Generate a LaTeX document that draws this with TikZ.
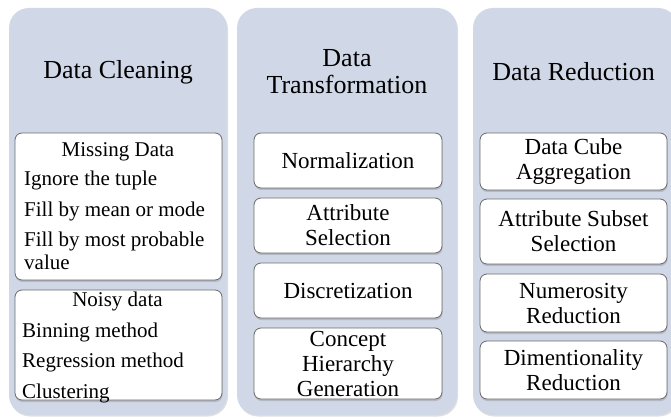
\documentclass[tikz,border=0pt]{standalone}
\usepackage{fontspec}
\setmainfont{Liberation Serif}
\usetikzlibrary{shadows}

\definecolor{panelblue}{RGB}{208,216,231}
\definecolor{boxline}{RGB}{105,105,105}

\tikzset{
  panel/.style={fill=panelblue, rounded corners=20pt, inner sep=0pt,
    drop shadow={shadow xshift=1pt, shadow yshift=-1.5pt, opacity=0.25}},
  itembox/.style={draw=boxline, fill=white, rounded corners=7pt, line width=0.8pt,
    inner sep=0pt, align=center, font=\fontsize{23}{25}\selectfont,
    drop shadow={shadow xshift=0.5pt, shadow yshift=-2pt, opacity=0.35}},
  heading/.style={font=\fontsize{26}{27}\selectfont, align=center},
  listitem/.style={font=\fontsize{21}{23}\selectfont, inner sep=0pt}
}

\begin{document}
\begin{tikzpicture}[x=1pt,y=-1pt]

  \useasboundingbox (0,0) rectangle (671,419);
  \clip (0,0) rectangle (671,419);

  % the three columns
  \begin{scope}[every node/.style={panel}]
    \node (cleaning)  at (118,211.5)   [minimum width=218, minimum height=407] {};
    \node (transform) at (347,211.5)   [minimum width=220, minimum height=407] {};
    \node (reduction) at (575.5,211.5) [minimum width=205, minimum height=407] {};
  \end{scope}

  \node[heading] (cleanhead) at (118,72)   {Data Cleaning};
  \node[heading] (transhead) at (347,72)   {Data\\Transformation};
  \node[heading] (reducehead) at (573.5,72) {Data Reduction};

  % data cleaning
  \begin{scope}[every node/.style={itembox}]
    \node (missing) at (118.5,206.5) [minimum width=207, minimum height=147] {};
    \node (noisy)   at (118.5,345)   [minimum width=207, minimum height=110] {};
  \end{scope}

  \begin{scope}[every node/.style={listitem}]
    \node[anchor=base]      (missinghead) at (118,157) {Missing Data};
    \node[anchor=base west] (ignore)      at (24,186)  {Ignore the tuple};
    \node[anchor=base west] (fillmean)    at (24,217)  {Fill by mean or mode};
    \node[anchor=west, align=left] (fillprob) at (24,251) {Fill by most probable\\value};
    \node[anchor=base]      (noisyhead)   at (117.5,306) {Noisy data};
    \node[anchor=base west] (binning)     at (22,337)  {Binning method};
    \node[anchor=base west] (regression)  at (22,367)  {Regression method};
    \node[anchor=base west] (clustering)  at (22,398)  {Clustering};
  \end{scope}

  % data transformation
  \begin{scope}[every node/.style={itembox, minimum width=188}]
    \node (norm)    at (348,160.5) [minimum height=55] {Normalization};
    \node (attrsel) at (348,225.5) [minimum height=55] {Attribute\\Selection};
    \node (discret) at (348,290.5) [minimum height=55] {Discretization};
    \node (concept) at (348,363.5) [minimum height=71] {Concept\\Hierarchy\\Generation};
  \end{scope}

  % data reduction
  \begin{scope}[every node/.style={itembox, minimum width=187}]
    \node (cube)      at (573.5,161.5) [minimum height=57] {Data Cube\\Aggregation};
    \node (subset)    at (573.5,231.5) [minimum height=65] {Attribute Subset\\Selection};
    \node (numerosity) at (573.5,303)  [minimum height=58] {Numerosity\\Reduction};
    \node (dimension) at (573.5,370)   [minimum height=58] {Dimentionality\\Reduction};
  \end{scope}

\end{tikzpicture}
\end{document}
